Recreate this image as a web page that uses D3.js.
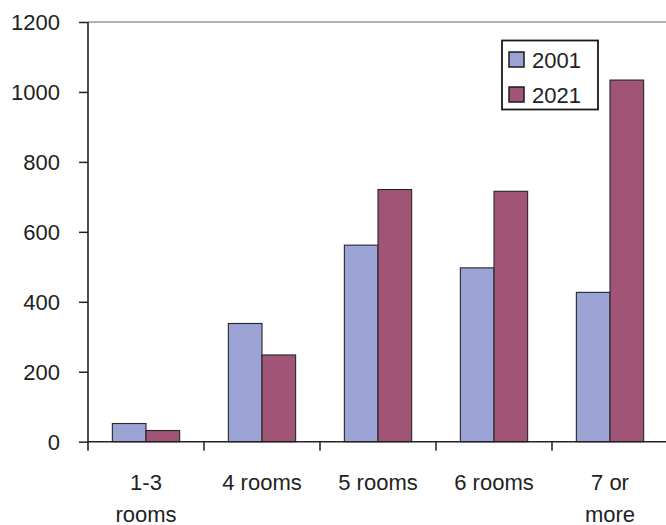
<!DOCTYPE html>
<html>
<head>
<meta charset="utf-8">
<script src="https://cdn.jsdelivr.net/npm/d3@7/dist/d3.min.js"></script>
<style>
  html, body { margin: 0; padding: 0; background: #fff; }
  svg { display: block; }
  text { font-family: "Liberation Sans", Arial, Helvetica, sans-serif; fill: #222; }
</style>
</head>
<body>
<div id="chart"></div>
<script>
// Dwellings by number of rooms
const categories = ["1-3 rooms", "4 rooms", "5 rooms", "6 rooms", "7 or more"];
const categoryLines = [["1-3", "rooms"], ["4 rooms"], ["5 rooms"], ["6 rooms"], ["7 or", "more"]];
const seriesNames = ["2001", "2021"];
const values2001 = [52, 338, 562, 497, 427];
const values2021 = [32, 248, 721, 716, 1034];
const yTicks = [0, 200, 400, 600, 800, 1000, 1200];

const colors = { "2001": "#9ba3d4", "2021": "#a05476" };
const seriesValues = { "2001": values2001, "2021": values2021 };

const width = 666, height = 525;
const margin = { left: 88, top: 22, bottom: 84 };

const svg = d3.select("#chart").append("svg")
  .attr("width", width).attr("height", height);

const y = d3.scaleLinear().domain([0, 1200]).range([height - margin.bottom + 0.7, margin.top]);
const x0 = d3.scaleBand().domain(categories).range([margin.left, 668])
  .paddingInner(0.42).paddingOuter(0.21);
const x1 = d3.scaleBand().domain(seriesNames).range([0, x0.bandwidth()]).padding(0);

const y0 = y(0);

// top frame line at the maximum of the scale
svg.append("line")
  .attr("x1", margin.left).attr("x2", width)
  .attr("y1", y(1200)).attr("y2", y(1200))
  .attr("stroke", "#9a9a9a").attr("stroke-width", 1.5);

// bars
const groups = svg.selectAll("g.cat").data(categories).join("g")
  .attr("class", "cat")
  .attr("transform", d => `translate(${x0(d)},0)`);

groups.selectAll("rect").data((d, i) => seriesNames.map(s => ({ s, v: seriesValues[s][i] })))
  .join("rect")
  .attr("x", d => x1(d.s))
  .attr("y", d => y(d.v))
  .attr("width", x1.bandwidth())
  .attr("height", d => y0 - y(d.v))
  .attr("fill", d => colors[d.s])
  .attr("stroke", "#262626")
  .attr("stroke-width", 1.1);

// y axis
const yAxis = d3.axisLeft(y).tickValues(yTicks).tickSize(9).tickPadding(0).tickFormat(d3.format("d"));
const gy = svg.append("g").attr("transform", `translate(${margin.left},0)`).call(yAxis);
gy.select(".domain").remove();
gy.selectAll(".tick line").attr("stroke", "#222").attr("stroke-width", 1.5);
gy.selectAll(".tick text")
  .attr("x", -28)
  .attr("dy", "0.36em")
  .attr("font-size", 22)
  .style("font-family", '"Liberation Sans", Arial, sans-serif')
  .attr("fill", "#222");

svg.append("line")
  .attr("x1", margin.left).attr("x2", margin.left)
  .attr("y1", y(1200)).attr("y2", y0 + 9)
  .attr("stroke", "#222").attr("stroke-width", 1.6);

// x axis baseline and category separators
svg.append("line")
  .attr("x1", margin.left).attr("x2", width)
  .attr("y1", y0).attr("y2", y0)
  .attr("stroke", "#222").attr("stroke-width", 1.6);

const step = x0.step();
const boundaries = categories.map(c => x0(c) + x0.bandwidth() / 2 - step / 2).slice(1);
svg.selectAll("line.sep").data(boundaries).join("line")
  .attr("class", "sep")
  .attr("x1", d => d).attr("x2", d => d)
  .attr("y1", y0).attr("y2", y0 + 9)
  .attr("stroke", "#222").attr("stroke-width", 1.5);

// category labels
const labels = svg.selectAll("text.cat").data(categories).join("text")
  .attr("class", "cat")
  .attr("text-anchor", "middle")
  .attr("font-size", 22)
  .attr("x", d => x0(d) + x0.bandwidth() / 2)
  .attr("y", 489.5);
labels.selectAll("tspan").data((d, i) => categoryLines[i]).join("tspan")
  .attr("x", function () { return d3.select(this.parentNode).attr("x"); })
  .attr("dy", (d, i) => i === 0 ? 0 : 32)
  .text(d => d);

// legend
const legend = svg.append("g");
legend.append("rect")
  .attr("x", 502).attr("y", 40.5).attr("width", 96).attr("height", 69)
  .attr("fill", "#fff").attr("stroke", "#1a1a1a").attr("stroke-width", 1.8);
const items = legend.selectAll("g.item").data(seriesNames).join("g")
  .attr("class", "item")
  .attr("transform", (d, i) => `translate(509,${52 + i * 35})`);
items.append("rect")
  .attr("width", 15).attr("height", 15)
  .attr("fill", d => colors[d])
  .attr("stroke", "#1a1a1a").attr("stroke-width", 1.5);
items.append("text")
  .attr("x", 23).attr("y", 16)
  .attr("font-size", 22)
  .text(d => d);
</script>
</body>
</html>
